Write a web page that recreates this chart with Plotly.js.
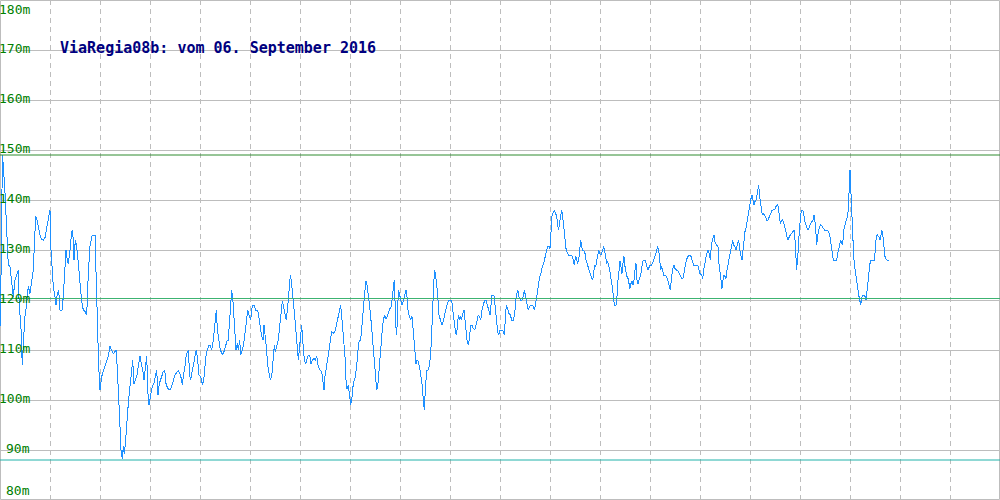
<!DOCTYPE html>
<html>
<head>
<meta charset="utf-8">
<script src="https://cdn.plot.ly/plotly-3.0.1.min.js"></script>
<style>
  html, body { margin: 0; padding: 0; background: #fff; }
  #chart { width: 1000px; height: 500px; }
  #chart .js-line { shape-rendering: crispEdges; }
</style>
</head>
<body>
<div id="chart"></div>
<script>
// Track position (distance units along the profile)
const distance = [
  0,1.5,2.3,3.3,5,6.7,8.3,10,11,12,13.3,15,16.7,18.3,19.3,20.7,21.7,22.3,23.3,25,
  26.7,28.3,30,31.7,33.3,34.3,35.7,36.7,38.3,40,41.7,43.3,45,46.7,48.3,50,51,52.3,53.3,55,
  56,57.3,58.7,60,62,63.3,65,66,67.3,68.3,70,71.7,72.7,74,75.3,76.7,78,79.3,80.7,81.7,
  83.3,85,86.7,87.3,88.3,90,91.7,93.3,95,95.7,96.7,97.7,98.7,100,101.7,103.3,105,106.7,108.3,110,
  111.7,113.3,115,116,117.3,118.7,120,121,122.3,123.3,124.3,125.3,126.7,128.3,130,131.7,132.7,134,135.3,136.7,
  138.3,140,141.3,142.7,144,145.3,146.7,148,149,150.7,152.3,154,155.7,156.7,158,159.3,161.7,163.3,164.7,166,
  167.7,170,171.7,173.3,
  175,178.3,180,181.7,182.3,183.7,185,186.3,188.3,189.7,190.7,191.7,193.3,195,196.3,197.7,199,200.7,202.3,203.7,
  205,206.3,207.7,209,210.3,211.7,213.3,214.7,215.7,216.3,217.3,218.3,219.7,221,222.3,224,225.7,227.3,228.3,229.3,
  230.3,231.7,233,234,235,236,237.3,238.3,239.7,240.7,242.3,243.7,245,246.3,247.7,249,250.7,251.7,252.7,254,
  255.7,257.7,259,260.3,261.7,263,264,265,266.3,267.7,269,270.3,271.7,273,274.3,275.3,276.7,278.3,279.7,281,
  282.3,283.3,285,286.3,287.7,288.7,289.7,290.3,291.3,292.3,293.7,295,296.7,298.3,299.3,300.7,301.7,303,304.3,305.7,
  307,308.3,309.7,311,312.3,314,315.3,316.7,318.3,320,321.7,323,324,325,326.3,327.7,329,330.3,331.7,333.3,
  335,336,337.3,338.3,339.7,340.7,341.7,343.3,345,346,347,348.3,349.3,350.7,
  351.7,353.3,355,356.7,358,359.3,360.7,361.7,362.7,364,365,366,367.3,368.3,370,371.3,372.7,374,375.3,376.7,
  378,379.3,380.7,382,383.3,384.7,386,387.3,388.7,390,391.3,392.3,393.3,394.3,395.3,396.3,397.3,398.3,399.3,400.7,
  402,403.3,404.7,406,407,408,409.3,410.7,412,413.3,414.7,416,417,418.3,420,421,422,423.3,424.3,425.3,
  426.7,428,429.3,430.7,431.7,432.7,433.7,434.7,435.7,436.7,437.7,438.7,440,441.3,442.3,443.3,444.7,446,447.3,448.7,
  450,451.7,452.7,454,455.3,456.3,457.3,458.3,459.3,460.3,461.3,462.7,464,465,466,467,468.3,469.3,470.7,472,
  473.3,474.7,476,477.3,478.3,479.3,480.7,482,483.3,484.7,486,487.3,488.7,490,491,492,494,495.3,496.7,497.7,
  498.7,500,501.7,503.3,504.3,505.3,506.3,507.7,509,510.3,511.7,513.3,514.7,515.7,516.7,518,519.3,520.7,522,523.3,
  524.3,
  525,526.7,528.3,530,531.7,533.3,534.3,535.7,537,538.3,539.7,541,542.3,543.7,545,546.3,547.7,549,550,551,
  552,553.3,554.3,555.7,556.7,557.7,558.7,559.7,560.7,561.7,562.7,563.7,565,566,567.3,568.7,570,571.7,573,574.3,
  575.7,576.7,577.7,578.7,579.7,580.7,581.7,582.7,583.7,585,586,587,588.3,589.7,590.7,591.7,592.7,593.7,594.7,595.7,
  596.7,597.7,598.7,599.7,601,602.3,603.7,604.7,605.7,606.7,607.7,608.7,609.7,610.7,611.7,612.7,613.7,614.7,616,617,
  618,619,620,621,622,623,624,625,626,627,628,629,630,631,632,633,634,635,636,637,
  638,639,640,641,642,643.3,645,646.3,647.7,649,650.3,651.7,653.3,655,656.3,657.7,658.7,659.7,660.7,661.7,
  662.7,663.7,665,666.3,667.7,669,670.3,671.7,672.7,674,675,676.7,678.3,680,681.7,683,684.3,685.7,687,688.3,
  689.7,691,692.3,693.7,695.7,697.7,699,
  700,701.7,702.7,704,705.3,706.7,708,709.3,710.3,711.3,712.7,714,715.3,716.7,718,719,720,721,722,723,
  724,725,726,727,728.3,729.3,730.3,731.7,732.7,733.7,734.7,736,737.3,738.7,739.7,740.7,742,743,744,745,
  746,747,748,749,750,751,752,753,754,755,756,757,758,758.7,759.7,760.7,761.7,762.7,763.7,764.7,
  765.7,766.7,768,769.3,770.7,772,773.3,774.7,776,777.3,778.3,779.3,780.3,781.3,782.3,783.3,784.3,785.3,786.3,787.3,
  788.3,789.3,790.3,791.7,793,794.3,795,795.7,796.7,797.3,798.3,799.3,800.3,801.3,802.7,803.7,804.7,805.7,806.7,807.7,
  808.7,809.7,810.7,812,813,814,815,816,816.7,817.7,818.7,819.7,820.7,822,823.3,824.7,826,827.3,828.7,830,
  831,832,833.3,835,836.7,837.7,838.7,839.7,840.7,841.7,842.7,843.7,844.7,845.7,846.7,847.7,848.7,849.3,850,850.7,
  851.3,852,852.7,853.7,854.7,855.7,856.7,858,859,860,860.7,861.7,862.7,864,865,866,867,868,869,870,
  871,872.7,874.3,875.3,876.3,877.3,878.7,880,881,882,883,884,885,886,887.3,888.7
];

// Elevation in metres
const elevation = [
  114.6,130,149,147,141.4,132,127,126.7,124.7,122,120.7,124,125.3,126,118,116,110,107,111.3,116.7,
  119.3,122.7,121.3,123.3,126,130.7,136.7,136.3,134.7,133,132.1,132,132.5,134.7,136.7,138,130,126.7,122.7,120.7,
  119,121.3,122,118,118,120.7,126.7,130,128,127.3,130,133.7,134,128,132,130.7,128,125.3,122.7,119.7,
  118,117.7,117,120.7,125.3,130.7,132.7,133,133,128,120,112,106.7,102,104.7,105.7,106.7,107.3,108.7,110.7,
  110,109.2,109.7,110,106.3,101.3,94.7,90,88.3,90.7,89.3,91,95.3,99.3,102.7,106.7,108,103.3,104,104.7,
  106.7,108.7,107.3,106,104,106,108.7,101.3,99,101,102.7,103.3,105.3,106,101,103.3,104.7,105.7,106,103.3,
  102.3,102,102.7,104,
  105,105.9,105.2,104,103,105.3,106.7,109,110,105,104,105.3,106.7,108.7,110,108,105,104.7,103,104,
  106.7,109.3,110.3,111,111,110,112,114.3,116.7,118,114.3,112.3,110.7,109.7,109,109.7,111,112,112,115.3,
  119,122,119.7,116,113.3,110,111.3,110,112,109,110,111.3,113.3,115.3,118,117,116,118,119,119,
  118,118,116.7,114.7,112.7,112,115,113.3,110.7,107,105,104,104.7,108.7,111,109.7,110.7,112,114.7,117.3,
  119.7,119,117.3,116,118.7,120.7,123.3,125,124,121.3,118.7,116,112,108,110,112.7,115,111.3,108,107.3,
  108.3,109,109,107.3,108,108.3,108,108.7,106.7,106,105.7,104,102,104.7,106.7,108.7,110,111.7,113.7,113.3,
  113.7,114.7,115.7,117.3,118.3,119,116.7,112.7,108.7,104,102.3,103,100.7,99,
  100,103.3,104.3,106.7,110,112,112,115,117.3,119.7,122,123.7,122.7,120.3,118,115.3,111.7,107.3,104,102,
  103.3,106,110,113.3,116,117,116.3,116.7,117.7,118.3,118.7,120.7,122.7,124,118,113,115.3,122,121.3,120,
  119,119.7,120.7,122,120.7,118,116.7,116,116.7,113.7,110,107.3,108,107.7,106,104.7,103.3,100,98,102,
  106,106,106.7,109.3,112.7,118,123.3,126,124.7,123.3,121.3,117.3,116,115.3,115,116,117.3,118.3,119.3,120,
  120,120,118,115.3,114,113,114.3,117,116,116.7,116,117.3,118,116,114,112,111,112,115,115,
  114.3,114,115,116,117,116.7,116,118,119.3,120,120,118.7,118,117,118.7,120.9,120.9,118,116,113.7,
  113,114,114,113.7,113,115.3,119,118.3,117.3,117,116,116,117.3,119.7,121.3,121.9,120.3,120,120,120.7,
  122,
  121.3,119.3,118,118.8,119,118.7,118,119.3,121.3,123.3,124.7,125.3,126.7,127.3,128.7,129.7,130.7,130.7,130.3,134.7,
  136.7,137.7,137.9,137.3,136.7,135,134,135.7,137,138,136.7,134.3,132,130.3,129.3,129,129,129,128.3,127,
  128.8,128,127.3,128,130,132,130.7,130,130,129.3,128,127.3,126.7,125.7,124.7,124.3,124,126,127,126.7,
  127.7,129.3,130,129.3,129,129.7,130.7,129.7,128,127.3,127.7,127,126,124.7,123.7,122,120,119,119,120.7,
  124,126.7,127.7,126.7,125.3,127.3,128.7,126.7,125.3,124.7,124.3,123.3,122.3,123.3,123.7,123,124,126,127.3,124,
  123.3,124,124.7,125.3,126.7,128,128,127.3,126,126.7,127,127,127.7,128.7,129.7,130.7,130,128,126,126.7,
  126,125,125,124.7,124,123,122,124.7,126.3,127,126.3,126,125.7,125,124.3,124.3,126,127.3,128.3,128.8,
  129,128.7,127.7,127,127,127,126,
  125.3,125,124.3,126.3,128,129.3,130,129.3,128,130.7,132.3,133,131.3,131,130.7,127.3,125.3,123.3,122.3,124,
  125,124.7,124.3,126,127.3,128.7,130,131.3,132,131,130.7,130,131,132,130,129,128,130,132.7,133.7,
  134.3,135.7,136.7,138,139.3,140.3,141,140,139,139.7,140,141,142.1,143,140.7,138.3,137.7,137,137.3,137,
  136.3,136,136,136.7,137.3,137.9,138,138.1,138.7,139,138.7,136.7,135.3,135.7,136,135.7,135,134.3,133.3,132.3,
  132,132.7,133,133.3,133.7,134,132,128,126,128,130,134,137,138,138,137.3,135.7,135,134.7,134,
  134.3,135,135.3,135.7,136,137,135.7,133.3,131,133,134,134.7,135,134.8,134.3,134,134,134,133.7,132.7,
  131.3,129.3,128,128,128,129.3,130.3,131,132,131.3,131,134,135,136,136.3,136.7,139.3,143.3,146,142.7,
  140,136,130.7,128.7,126.7,125,123.3,122,120.7,119.7,119,120.3,121,121,120.7,120,122,123.7,125.7,127.3,
  128,128,128,130,132.7,133,132.7,132,133,133.9,132.7,130.3,128.7,128.2,128,128
];

// Reference levels: maximum, average, minimum (m)
const refLevels = [149, 120.3, 88];
const refColors = ['#2e8b2e', '#3cb371', '#20b2aa'];

// Y-axis tick values (m)
const yTicks = [80, 90, 100, 110, 120, 130, 140, 150, 160, 170, 180];

const chartTitle = 'ViaRegia08b: vom 06. September 2016';

const mono = 'DejaVu Sans Mono, monospace';

const annotations = yTicks.map(v => {
  let anchor = 'middle', shift = 2;
  if (v === 180) { anchor = 'top'; shift = 0; }
  if (v === 80) { anchor = 'bottom'; shift = 0; }
  return {
    xref: 'paper', yref: 'y', x: 0.032, y: v,
    xanchor: 'right', yanchor: anchor, yshift: shift,
    text: v + 'm', showarrow: false,
    font: { family: mono, size: 13, color: '#008000' }
  };
});

const shapes = refLevels.map((v, i) => ({
  type: 'line', xref: 'paper', yref: 'y', x0: 0, x1: 1, y0: v, y1: v,
  line: { color: refColors[i], width: 1 }
}));
shapes.push({
  type: 'rect', xref: 'paper', yref: 'paper', x0: 0.0005, x1: 0.9995, y0: 0.001, y1: 0.999,
  line: { color: '#bdbdbd', width: 1 }, layer: 'below'
});

const trace = {
  x: distance, y: elevation, type: 'scatter', mode: 'lines',
  line: { color: '#1e90ff', width: 1 }, hoverinfo: 'skip'
};

const layout = {
  width: 1000, height: 500,
  margin: { l: 0, r: 0, t: 0, b: 0 },
  paper_bgcolor: '#ffffff', plot_bgcolor: '#ffffff',
  showlegend: false,
  title: {
    text: chartTitle, x: 0.06, xanchor: 'left', y: 0.904, yanchor: 'middle',
    font: { family: mono, size: 15, color: '#000080', weight: 'bold' }
  },
  xaxis: {
    range: [0, 1000], tick0: 0, dtick: 50, showticklabels: false, ticks: '',
    showgrid: true, gridcolor: '#bdbdbd', gridwidth: 1, griddash: '5px,4px',
    zeroline: false, showline: false, fixedrange: true
  },
  yaxis: {
    range: [80, 180], tick0: 80, dtick: 10, showticklabels: false, ticks: '',
    showgrid: true, gridcolor: '#bdbdbd', gridwidth: 1,
    zeroline: false, showline: false, fixedrange: true
  },
  annotations: annotations,
  shapes: shapes
};

Plotly.newPlot('chart', [trace], layout, { staticPlot: true, displayModeBar: false });
</script>
</body>
</html>
